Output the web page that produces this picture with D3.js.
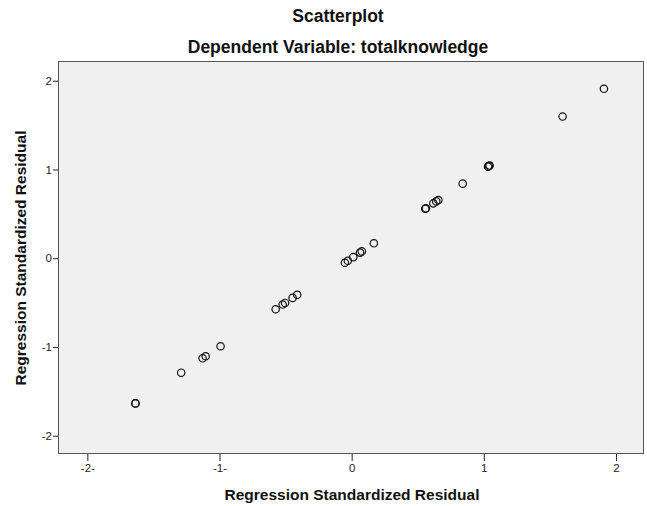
<!DOCTYPE html>
<html>
<head>
<meta charset="utf-8">
<script src="https://cdn.jsdelivr.net/npm/d3@7"></script>
<style>
  html, body { margin: 0; padding: 0; background: #fff; }
  svg { display: block; }
  text { font-family: "Liberation Sans", Arial, sans-serif; }
</style>
</head>
<body>
<div id="chart"></div>
<script>
// ---- data ----
const titleText = "Scatterplot";
const subtitleText = "Dependent Variable: totalknowledge";
const xTitle = "Regression Standardized Residual";
const yTitle = "Regression Standardized Residual";
const tickValues = [-2, -1, 0, 1, 2];
const tickLabels = ["-2-", "-1-", "0", "1", "2"];
// standardized residuals (plotted against themselves)
const xValues = [-1.636, -1.636, -1.290, -1.128, -1.105, -0.992, -0.575, -0.522, -0.504, -0.447, -0.412,
  -0.051, -0.029, 0.012, 0.063, 0.077, 0.168, 0.557, 0.562, 0.618, 0.640, 0.656, 0.840,
  1.032, 1.038, 1.044, 1.596, 1.909];
const yValues = [-1.636, -1.636, -1.290, -1.128, -1.105, -0.992, -0.575, -0.522, -0.504, -0.447, -0.412,
  -0.051, -0.029, 0.012, 0.063, 0.077, 0.168, 0.557, 0.562, 0.618, 0.640, 0.656, 0.840,
  1.032, 1.038, 1.044, 1.596, 1.909];

// ---- layout ----
const W = 647, H = 506;
const plot = { left: 58, top: 61, right: 644, bottom: 454 };

const svg = d3.select("#chart").append("svg").attr("width", W).attr("height", H);

const x = d3.scaleLinear().domain([-2.222, 2.212]).range([plot.left, plot.right]);
const y = d3.scaleLinear().domain([-2.206, 2.222]).range([plot.bottom, plot.top]);

svg.append("rect")
  .attr("x", plot.left).attr("y", plot.top)
  .attr("width", plot.right - plot.left).attr("height", plot.bottom - plot.top)
  .attr("fill", "#f0f0f0");

// axes
const xAxis = d3.axisBottom(x).tickValues(tickValues)
  .tickFormat((d, i) => tickLabels[i]).tickSize(7).tickPadding(3);
const yAxis = d3.axisLeft(y).tickValues(tickValues)
  .tickFormat((d, i) => tickLabels[i].replace(/-$/, "")).tickSize(5).tickPadding(1);

const gx = svg.append("g").attr("transform", `translate(0,${plot.bottom})`).call(xAxis);
const gy = svg.append("g").attr("transform", `translate(${plot.left},0)`).call(yAxis);
[gx, gy].forEach(g => {
  g.select(".domain").remove();
  g.selectAll(".tick line").attr("stroke", "#222").attr("stroke-width", 1);
  g.selectAll(".tick text").attr("fill", "#222").style("font-size", "11.5px")
    .style("font-family", "'Liberation Sans', Arial, sans-serif");
});

// frame
svg.append("rect")
  .attr("x", plot.left + 0.5).attr("y", plot.top + 0.5)
  .attr("width", plot.right - plot.left - 1).attr("height", plot.bottom - plot.top - 1)
  .attr("fill", "none").attr("stroke", "#555").attr("stroke-width", 1);

// points
const pts = xValues.map((v, i) => ({ x: v, y: yValues[i] }));
svg.append("g").selectAll("circle").data(pts).join("circle")
  .attr("cx", d => x(d.x)).attr("cy", d => y(d.y)).attr("r", 3.7)
  .attr("fill", "none").attr("stroke", "#111").attr("stroke-width", 1.2);

// titles
svg.append("text").attr("x", 338).attr("y", 22).attr("text-anchor", "middle")
  .style("font-size", "17.5px").style("font-weight", "bold").attr("fill", "#111").text(titleText);
svg.append("text").attr("x", 338).attr("y", 53).attr("text-anchor", "middle")
  .style("font-size", "17.5px").style("font-weight", "bold").attr("fill", "#111").text(subtitleText);
svg.append("text").attr("x", 352).attr("y", 500).attr("text-anchor", "middle")
  .style("font-size", "15.5px").style("font-weight", "bold").attr("fill", "#111").text(xTitle);
svg.append("text").attr("transform", "translate(26,258) rotate(-90)").attr("text-anchor", "middle")
  .style("font-size", "15.5px").style("font-weight", "bold").attr("fill", "#111").text(yTitle);
</script>
</body>
</html>
